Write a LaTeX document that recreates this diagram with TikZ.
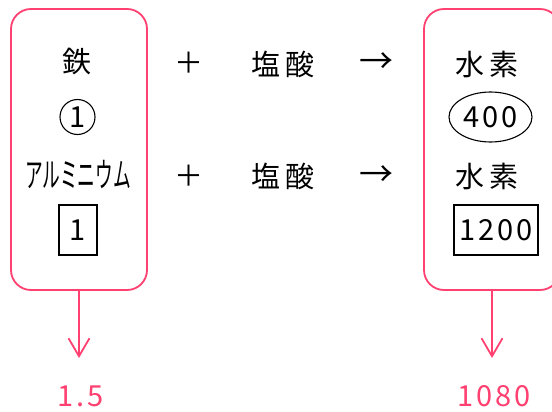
\documentclass[tikz,border=0pt]{standalone}
\usepackage{fontspec}
\usepackage{graphicx}
\setmainfont{Noto Sans CJK JP}
\newfontfamily\numfont{Noto Sans CJK JP}[LetterSpace=10]
\newfontfamily\kanjifont{Noto Sans CJK JP}[LetterSpace=20]
\usetikzlibrary{arrows.meta,shapes.geometric}
\definecolor{boxpink}{RGB}{255,64,112}

\newcommand*{\xmax}{552}
\newcommand*{\ymax}{412}

\begin{document}
\begin{tikzpicture}
[
	x=1pt, y=-1pt,
	roundbox/.style={draw=boxpink,line width=1.8pt,rounded corners=20pt,minimum width=136pt,minimum height=281pt},
	word/.style={inner sep=0pt,font=\fontsize{29}{32}\selectfont\kanjifont},
	sign/.style={inner sep=0pt,font=\fontsize{34}{36}\selectfont},
	num/.style={inner sep=0pt,font=\fontsize{29}{34}\selectfont\numfont},
	outlined/.style={draw,line width=1.1pt,inner sep=0pt},
	result/.style={num,text=boxpink},
	down/.style={draw=boxpink,line width=1.8pt,-{Straight Barb[length=18pt,width=21pt]}}
]

	% frame
	\useasboundingbox (0,0) rectangle (\xmax,\ymax);
	\clip (0,0) rectangle (\xmax,\ymax);

	% boxes
	\node[roundbox] (lbox) at (79,149.5) {};
	\node[roundbox] (rbox) at (492,149.5) {};

	% left column
	\node[word] (iron) at (77,62) {鉄};
	\node[num,outlined,circle,minimum size=35pt] (ironval) at (77.5,117) {1};
	\node[word] (alu) at (78,175) {\scalebox{0.52}[1]{\normalfont\fontsize{34}{36}\selectfont アルミニウム}};
	\node[num,outlined,minimum width=38pt,minimum height=50pt] (aluval) at (78,230) {1};

	% middle
	\node[word] (plusa) at (189,63) {＋};
	\node[word] (plusb) at (189,176) {＋};
	\node[word] (acida) at (283,64) {塩酸};
	\node[word] (acidb) at (283,176) {塩酸};
	\node[sign] (toa) at (376,63) {→};
	\node[sign] (tob) at (376,176) {→};

	% right column
	\node[word] (gasa) at (487,64) {水素};
	\node[num,outlined,ellipse,minimum width=83pt,minimum height=50pt] (gasaval) at (490.5,117) {400};
	\node[word] (gasb) at (487,176) {水素};
	\node[num,outlined,minimum width=84pt,minimum height=50pt] (gasbval) at (496,230) {1200};

	% results
	\coordinate (ltip) at (79,358);
	\coordinate (rtip) at (492,358);
	\draw[down] (lbox.south) -- (ltip);
	\draw[down] (rbox.south) -- (rtip);
	\node[result] (lres) at (81,396) {1.5};
	\node[result] (rres) at (494,396) {1080};

\end{tikzpicture}
\end{document}
